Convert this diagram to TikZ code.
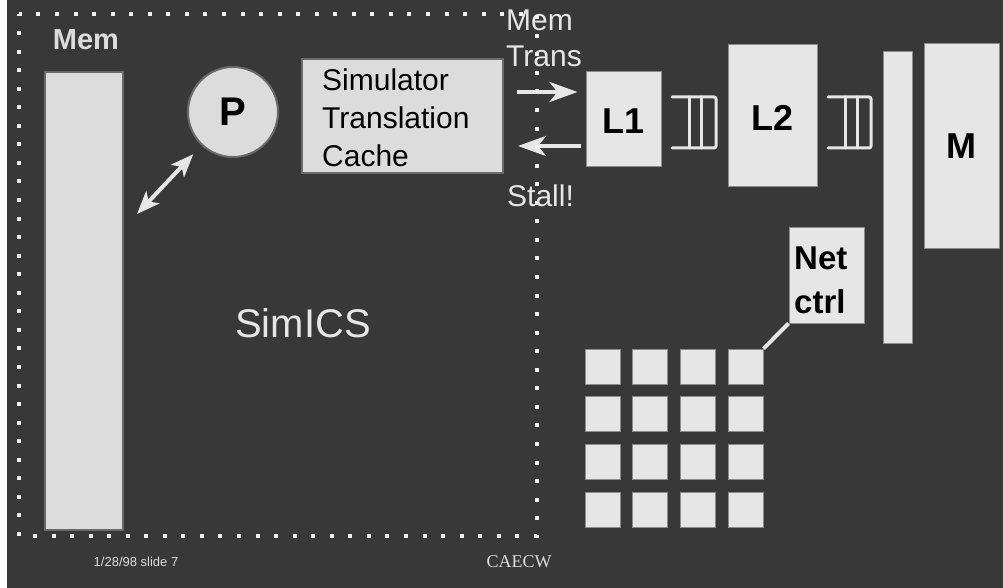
\documentclass[tikz,border=0pt]{standalone}
\usepackage{fontspec}
\setmainfont{Liberation Sans}
\newfontfamily\timesf{Liberation Serif}
\usetikzlibrary{arrows.meta}
\pgfdeclarelayer{bglayer}
\pgfdeclarelayer{under}
\pgfsetlayers{bglayer,under,main}
\definecolor{bg}{HTML}{383838}
\definecolor{fillA}{HTML}{E6E6E6}
\definecolor{fillB}{HTML}{DCDCDC}
\definecolor{lineA}{HTML}{8C8C8C}
\definecolor{lineB}{HTML}{6A6A6A}
\definecolor{lite}{HTML}{E6E6E6}
\definecolor{dotc}{HTML}{F0F0F0}
\tikzset{
  cachebox/.style={draw=lineA, line width=1pt, fill=fillA, inner sep=0pt, font=\bfseries\fontsize{36}{40}\selectfont},
  simbox/.style={draw=lineB, line width=2pt, fill=fillB, inner sep=0pt},
  cell/.style={draw=lineA, line width=0.8pt, fill=fillA, minimum width=35pt, minimum height=35pt, inner sep=0pt},
  lbl/.style={text=lite, inner sep=0pt},
  fatarrow/.style={draw=lite, line width=4.5pt, -{Stealth[length=28pt,width=20pt,inset=8pt]}},
  dblarrow/.style={draw=lite, line width=4pt, {Stealth[length=23pt,width=18pt,inset=6pt]}-{Stealth[length=23pt,width=18pt,inset=6pt]}},
  queue/.style={draw=lite, line width=3pt, line cap=round, line join=round, rounded corners=2pt},
  conn/.style={draw=lite, line width=4pt},
}
\begin{document}
\begin{tikzpicture}[x=1pt,y=-1pt]
\useasboundingbox (0,0) rectangle (1003,588);
\begin{pgfonlayer}{bglayer}
\fill[white] (0,0) rectangle (1003,588);
\fill[bg] (7,0) rectangle (1003,588);
\end{pgfonlayer}

% left part
\node[lbl, text=fillB, font=\bfseries\fontsize{29}{34}\selectfont] (memlbl) at (86,40) {Mem};
\node[simbox, minimum width=78pt, minimum height=458pt] (membar) at (84,301) {};
\node[simbox, circle, minimum size=90pt, font=\bfseries\fontsize{40}{44}\selectfont] (P) at (233,112) {P};
\node[simbox, minimum width=201pt, minimum height=114pt] (sim) at (402.5,116) {};
\node[inner sep=0pt, align=left, anchor=west, font=\fontsize{30}{38}\selectfont] (simtext) at (322,118) {Simulator\\Translation\\Cache};
\coordinate (dbl) at (137,214);
\draw[dblarrow, shorten >=12pt] (dbl) -- (P);
\node[lbl, font=\fontsize{40}{44}\selectfont] (simics) at (303,323) {SimICS};

% arrows and labels
\node[lbl, align=left, anchor=north west, font=\fontsize{30}{36}\selectfont] (memtrans) at (506,10) {Mem\\Trans};
\node[lbl, anchor=base west, font=\fontsize{30}{36}\selectfont] (stall) at (507,207) {Stall!};

% caches
\node[cachebox, minimum width=75pt, minimum height=95pt] (L1) at (623.5,119.5) {};
\node[lbl, text=black, font=\bfseries\fontsize{36}{40}\selectfont] (L1t) at (623.5,121.5) {L1};
\node[cachebox, minimum width=89pt, minimum height=142pt] (L2) at (772.5,116) {};
\node[lbl, text=black, font=\bfseries\fontsize{36}{40}\selectfont] (L2t) at (772.5,118) {L2};
\node[cachebox, minimum width=29pt, minimum height=291pt] (bus) at (897.5,197.5) {};
\node[cachebox, minimum width=75pt, minimum height=204pt] (M) at (961.5,146) {M};
\node[cachebox, minimum width=75pt, minimum height=96pt] (net) at (826.5,275) {};
\node[lbl, text=black, align=left, anchor=west, font=\bfseries\fontsize{33}{44}\selectfont] (nett) at (794,280) {Net\\ctrl};

\coordinate (reqs) at (517,92);
\draw[fatarrow, shorten >=8pt] (reqs) -- (reqs -| L1.west);
\coordinate (stallend) at (518,146);
\draw[fatarrow, shorten <=5pt] (stallend -| L1.west) -- (stallend);

% queues
\draw[queue] (672,97) -- (716,97) -- (716,148) -- (672,148);
\draw[queue] (689,97) -- (689,148);
\draw[queue] (701,97) -- (701,148);
\draw[queue] (828,97) -- (871,97) -- (871,148) -- (828,148);
\draw[queue] (845,97) -- (845,148);
\draw[queue] (857,97) -- (857,148);

% grid
\foreach \i in {0,...,3}{
  \foreach \j in {0,...,3}{
    \node[cell] (g\i\j) at ({602.5+47.7*\i},{366.5+47.7*\j}) {};
  }
}
\begin{pgfonlayer}{under}
\draw[conn] (g30.north east) -- (net.south west);
\end{pgfonlayer}

% footer
\node[lbl, text=fillB, font=\fontsize{13}{15}\selectfont] (date) at (136,562) {1/28/98 slide 7};
\node[lbl, text=fillB, font=\timesf\fontsize{18}{20}\selectfont] (caecw) at (519,562) {CAECW};

% dotted frame
\draw[dotc, line width=4pt, dash pattern=on 4pt off 14.55pt, dash phase=2pt] (18.5,14.5) rectangle (536.5,536);
\end{tikzpicture}
\end{document}
